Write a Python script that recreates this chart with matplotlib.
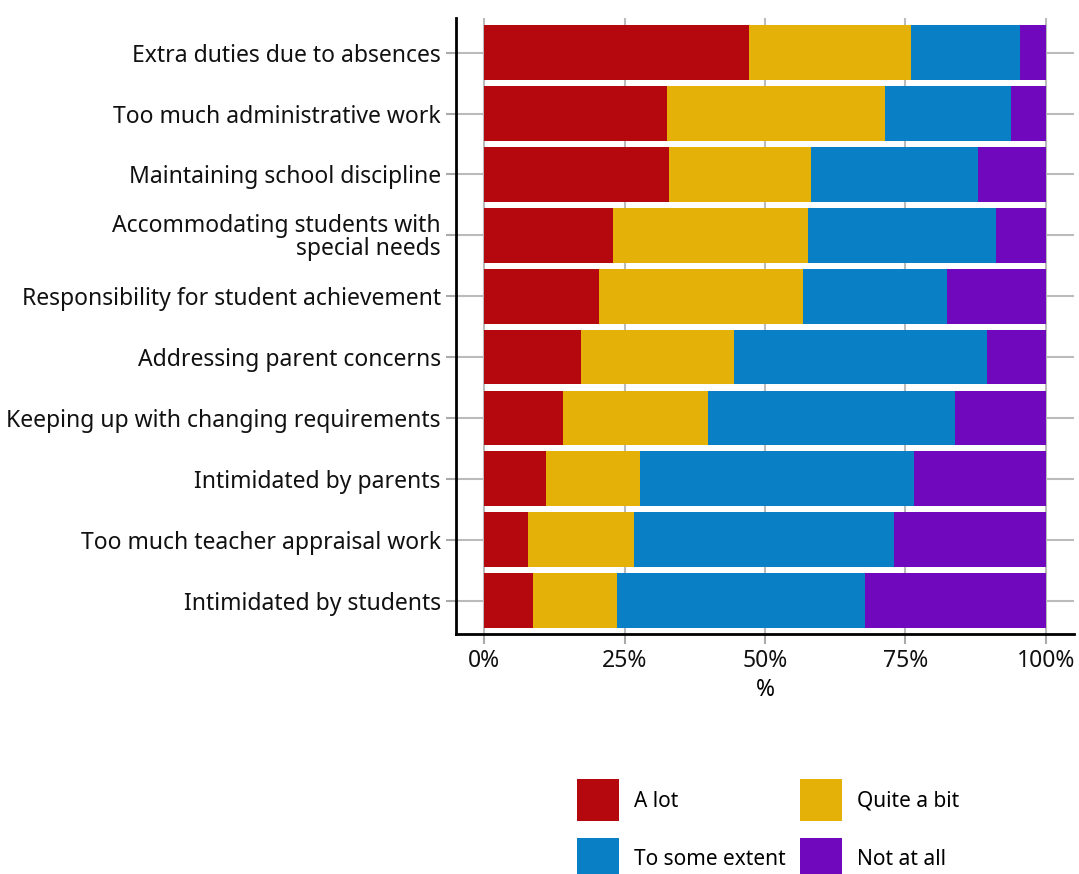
import numpy as np
import matplotlib
matplotlib.use("Agg")
import matplotlib.pyplot as plt
from matplotlib.patches import Patch

# survey items, top to bottom
items = [
    "Extra duties due to absences",
    "Too much administrative work",
    "Maintaining school discipline",
    "Accommodating students with\nspecial needs",
    "Responsibility for student achievement",
    "Addressing parent concerns",
    "Keeping up with changing requirements",
    "Intimidated by parents",
    "Too much teacher appraisal work",
    "Intimidated by students",
]
a_lot        = [47.1, 32.5, 33.0, 23.0, 20.4, 17.3, 14.1, 11.0, 7.9, 8.7]
quite_a_bit  = [28.8, 38.8, 25.1, 34.6, 36.3, 27.2, 25.7, 16.8, 18.7, 15.0]
some_extent  = [19.5, 22.4, 29.8, 33.5, 25.7, 45.0, 44.0, 48.7, 46.3, 44.1]
not_at_all   = [4.6, 6.3, 12.1, 8.9, 17.6, 10.5, 16.2, 23.5, 27.1, 32.2]

levels = ["A lot", "Quite a bit", "To some extent", "Not at all"]
colors = ["#B5070E", "#E4B109", "#0980C5", "#7009BE"]
xticks = [0, 25, 50, 75, 100]
xticklabels = ["0%", "25%", "50%", "75%", "100%"]

plt.rcParams["font.family"] = ["Noto Sans", "DejaVu Sans"]

fig = plt.figure(figsize=(10.79, 8.74), dpi=100)
ax = fig.add_axes([0.4226, 0.2746, 0.5728, 0.7048])

y = np.arange(len(items))
left = np.zeros(len(items))
for vals, col in zip([a_lot, quite_a_bit, some_extent, not_at_all], colors):
    ax.barh(y, vals, left=left, height=0.9, color=col, zorder=2)
    left += np.array(vals)

ax.set_xlim(-5, 105)
ax.set_ylim(len(items) - 0.45, -0.57)
ax.set_yticks(y)
ax.set_yticklabels(items, fontsize=16.5, linespacing=0.95)
ax.set_xticks(xticks)
ax.set_xticklabels(xticklabels, fontsize=16.5)
ax.set_xlabel("%", fontsize=16.5, labelpad=4)

ax.grid(True, color="#BBBBBB", linewidth=1.5, zorder=0)
ax.set_axisbelow(True)
for s in ["top", "right"]:
    ax.spines[s].set_visible(False)
for s in ["left", "bottom"]:
    ax.spines[s].set_linewidth(2)
    ax.spines[s].set_color("black")
ax.tick_params(axis="both", length=7, width=1.5, color="#AAAAAA", labelcolor="#111111")
ax.tick_params(axis="y", pad=4)

# legend is filled row-wise in the reference, matplotlib fills by column
order = [0, 2, 1, 3]
handles = [Patch(facecolor=colors[i], edgecolor="none") for i in order]
fig.legend(handles, [levels[i] for i in order], loc="upper left",
           bbox_to_anchor=(0.5255, 0.1201),
           ncol=2, frameon=False, fontsize=15, borderpad=0,
           handlelength=2.0, handleheight=2.7, handletextpad=0.72,
           labelspacing=0.8, columnspacing=0.7)

fig.savefig("out.png", dpi=100)
